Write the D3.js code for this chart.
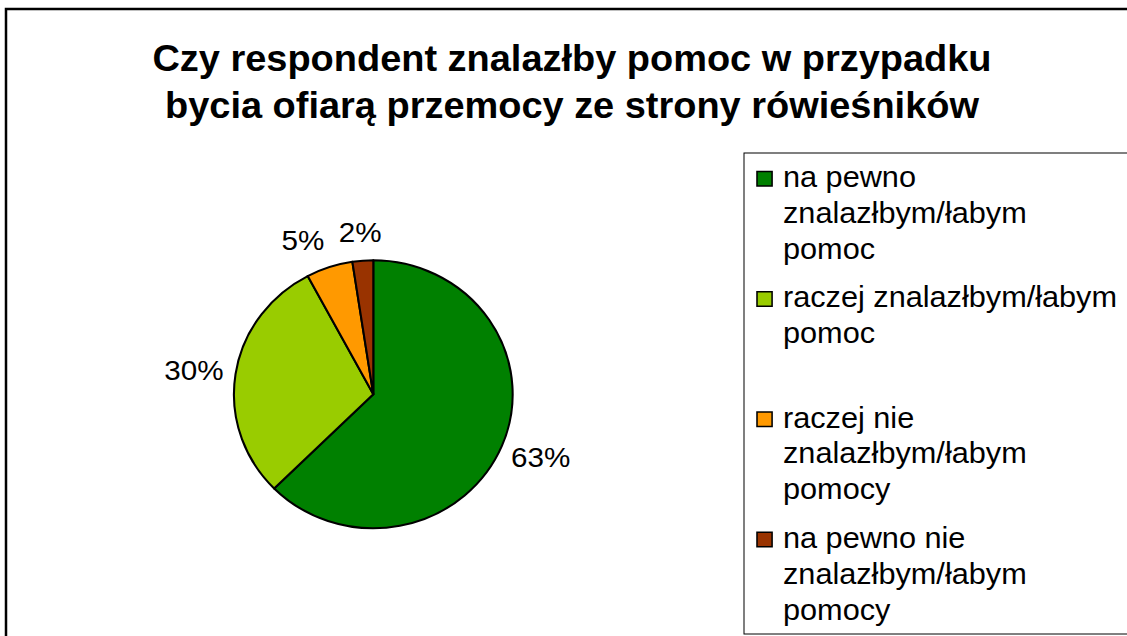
<!DOCTYPE html>
<html>
<head>
<meta charset="utf-8">
<script src="https://cdn.jsdelivr.net/npm/d3@7"></script>
<style>
  html, body { margin: 0; padding: 0; background: #fff; overflow: hidden; }
  text { font-family: "Liberation Sans", Arial, sans-serif; fill: #000; }
</style>
</head>
<body>
<svg id="chart" width="1127" height="636"></svg>
<script>
// chart data
var titleLines = ["Czy respondent znalazłby pomoc w przypadku",
                  "bycia ofiarą przemocy ze strony rówieśników"];
var categories = ["na pewno znalazłbym/łabym pomoc",
                  "raczej znalazłbym/łabym pomoc",
                  "raczej nie znalazłbym/łabym pomocy",
                  "na pewno nie znalazłbym/łabym pomocy"];
var values = [62.6, 29.6, 5.4, 2.4];
var colors = ["#008000", "#99cc00", "#ff9900", "#993300"];

(function () {
  var svg = d3.select("#chart"),
      sx = 1.04;   // the original picture is a little wider than tall

  // outer frame (cut off at right and bottom)
  svg.append("rect")
    .attr("x", 6).attr("y", 9)
    .attr("width", 1200).attr("height", 700)
    .attr("fill", "none").attr("stroke", "#000").attr("stroke-width", 2.5);

  // title
  var title = svg.append("g")
    .attr("transform", "translate(572,0) scale(" + sx + ",1)");
  title.selectAll("text")
    .data(titleLines)
    .enter().append("text")
    .attr("x", 0)
    .attr("y", function (d, i) { return 71 + i * 47; })
    .attr("text-anchor", "middle")
    .style("font-weight", "bold")
    .style("font-size", "36.5px")
    .text(function (d) { return d; });

  // pie
  var r = 134,
      pieData = d3.pie().sort(null)(values),
      arc = d3.arc().innerRadius(0).outerRadius(r);

  var pieG = svg.append("g")
    .attr("transform", "translate(373.3,394.3) scale(" + sx + ",1)");

  pieG.selectAll("path")
    .data(pieData)
    .enter().append("path")
    .attr("d", arc)
    .attr("fill", function (d, i) { return colors[i]; })
    .attr("stroke", "#000")
    .attr("stroke-width", 2)
    .attr("stroke-linejoin", "round");

  // data labels, outside the pie, pushed apart when they collide
  var fs = 28.5, capH = fs * 0.716, boxH = fs * 1.2, R = 146;
  var labels = pieData.map(function (d) {
    var a = (d.startAngle + d.endAngle) / 2,
        dx = Math.sin(a), dy = -Math.cos(a),
        txt = Math.round(d.value) + "%";
    var t = pieG.append("text")
      .attr("text-anchor", "middle")
      .style("font-size", fs + "px")
      .text(txt);
    var w = t.node().getComputedTextLength();
    return { node: t, w: w, h: boxH,
             x: dx * R + dx * w / 2, y: dy * R + dy * boxH / 2 };
  });
  var sorted = labels.slice().sort(function (a, b) { return b.x - a.x; });
  for (var i = 1; i < sorted.length; i++) {
    var A = sorted[i - 1], B = sorted[i];
    var overlapY = Math.abs(A.y - B.y) < (A.h + B.h) / 2;
    var gap = (A.x - A.w / 2) - (B.x + B.w / 2);
    if (overlapY && gap < 14) B.x -= (14 - gap);
  }
  labels.forEach(function (l) {
    l.node.attr("x", l.x).attr("y", l.y + capH / 2);
  });

  // legend
  var lgTop = 153, lgBottom = 634;
  svg.append("rect")
    .attr("x", 744).attr("y", lgTop)
    .attr("width", 500).attr("height", lgBottom - lgTop)
    .attr("fill", "none").attr("stroke", "#000").attr("stroke-width", 1);

  var band = d3.scaleBand().domain(categories).range([lgTop, lgBottom]);
  var lfs = 29.5, maxW = 326, lineH = 36;

  var legend = svg.append("g")
    .attr("transform", "translate(744,0) scale(" + sx + ",1)");

  var items = legend.selectAll("g.item")
    .data(categories)
    .enter().append("g")
    .attr("class", "item")
    .attr("transform", function (d) { return "translate(0," + (band(d) + 34) + ")"; });

  items.append("rect")
    .attr("x", 12.5).attr("y", -15.5)
    .attr("width", 14.5).attr("height", 14.5)
    .attr("fill", function (d, i) { return colors[i]; })
    .attr("stroke", "#000").attr("stroke-width", 1.5);

  items.each(function (d) {
    var g = d3.select(this),
        words = d.split(" "),
        line = [],
        lineNo = 0,
        t = g.append("text").attr("x", 37.5).attr("y", 0).style("font-size", lfs + "px");
    words.forEach(function (w) {
      line.push(w);
      t.text(line.join(" "));
      if (t.node().getComputedTextLength() > maxW && line.length > 1) {
        line.pop();
        t.text(line.join(" "));
        line = [w];
        lineNo++;
        t = g.append("text").attr("x", 37.5).attr("y", lineNo * lineH)
          .style("font-size", lfs + "px").text(w);
      }
    });
  });
})();
</script>
</body>
</html>
